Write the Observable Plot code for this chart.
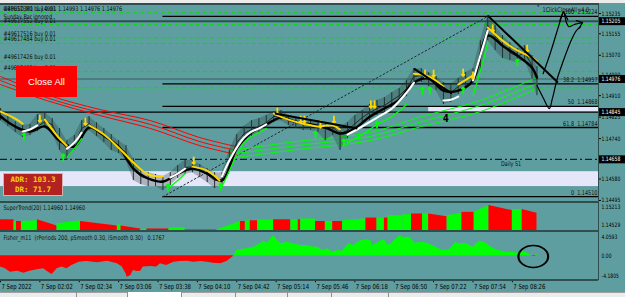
<!DOCTYPE html>
<html>
<head>
<meta charset="utf-8">
<script src="https://cdn.jsdelivr.net/npm/d3@7"></script>
<script src="https://cdn.jsdelivr.net/npm/@observablehq/plot@0.6"></script>
<style>
  html, body { margin:0; padding:0; background:#5F9EA0; }
  #chart { position:relative; width:625px; height:297px; overflow:hidden; background:#5F9EA0; }
  #chart svg { position:absolute; left:0; overflow:visible; }
  .box { position:absolute; box-sizing:border-box; }
</style>
</head>
<body>
<div id="chart"></div>
<script>
// ---------------- DATA ----------------
const timeBars = [0,32,64,96,128,160,192,224,256,288,320,352,384,416];
const timeLabels = ["7 Sep 2022","7 Sep 02:02","7 Sep 02:34","7 Sep 03:06","7 Sep 03:38","7 Sep 04:10","7 Sep 04:42","7 Sep 05:14","7 Sep 05:46","7 Sep 06:18","7 Sep 06:50","7 Sep 07:22","7 Sep 07:54","7 Sep 08:26"];

const priceTicks = [1.15235,1.15155,1.15070,1.14990,1.14910,1.14825,1.14740,1.14580,1.14495];
const markedLevels = [1.15205,1.14976,1.14845,1.14658];

const priceBars = [0,6,12,18,24,30,36,42,48,54,60,66,72,78,84,90,96,102,108,114,120,126,132,138,144,150,156,162,168,174,180,186,192,198,204,210,216,222,228,234,240,246,252,258,264,270,276,282,288,294,300,306,312,318,324,330,336,342,348,354,360,366,372,378,384,390,396,402,408,414,420,426,432,436];
const priceClose = [1.14835,1.14807,1.14784,1.14768,1.14772,1.14788,1.14807,1.14796,1.14736,1.14700,1.14716,1.14780,1.14799,1.14776,1.14752,1.14728,1.14708,1.14685,1.14617,1.14590,1.14582,1.14574,1.14566,1.14582,1.14605,1.14625,1.14629,1.14613,1.14598,1.14574,1.14578,1.14653,1.14724,1.14760,1.14776,1.14788,1.14803,1.14827,1.14831,1.14811,1.14803,1.14799,1.14796,1.14788,1.14780,1.14784,1.14760,1.14772,1.14799,1.14823,1.14843,1.14859,1.14871,1.14891,1.14910,1.14938,1.14986,1.14990,1.14978,1.14962,1.14930,1.14922,1.14946,1.14970,1.14986,1.15069,1.15188,1.15148,1.15108,1.15081,1.15065,1.15081,1.15029,1.14976];
const priceHigh = [1.14859,1.14835,1.14807,1.14792,1.14796,1.14835,1.14843,1.14819,1.14780,1.14732,1.14752,1.14811,1.14827,1.14803,1.14780,1.14756,1.14732,1.14712,1.14661,1.14613,1.14605,1.14598,1.14590,1.14605,1.14633,1.14653,1.14653,1.14637,1.14621,1.14605,1.14605,1.14693,1.14756,1.14788,1.14811,1.14819,1.14831,1.14847,1.14851,1.14831,1.14823,1.14819,1.14815,1.14811,1.14803,1.14803,1.14788,1.14803,1.14831,1.14851,1.14875,1.14891,1.14902,1.14922,1.14938,1.14970,1.15017,1.15017,1.15001,1.14986,1.14962,1.14954,1.14978,1.15001,1.15017,1.15128,1.15227,1.15188,1.15148,1.15120,1.15096,1.15108,1.15069,1.15025];
const priceLow = [1.14811,1.14788,1.14764,1.14744,1.14752,1.14768,1.14784,1.14764,1.14693,1.14653,1.14693,1.14740,1.14772,1.14748,1.14724,1.14693,1.14681,1.14653,1.14574,1.14558,1.14550,1.14550,1.14534,1.14554,1.14582,1.14598,1.14605,1.14586,1.14566,1.14542,1.14554,1.14613,1.14693,1.14732,1.14748,1.14764,1.14780,1.14803,1.14811,1.14792,1.14780,1.14772,1.14772,1.14764,1.14732,1.14752,1.14693,1.14740,1.14772,1.14796,1.14811,1.14831,1.14843,1.14859,1.14883,1.14906,1.14954,1.14962,1.14946,1.14930,1.14875,1.14883,1.14914,1.14938,1.14954,1.15009,1.15128,1.15089,1.15057,1.15049,1.15041,1.15049,1.14978,1.14910];

const maBars = [0,12,24,36,48,60,72,84,96,108,120,132,144,156,168,180,192,204,216,228,240,252,264,276,288,300,312,324,336,348,360,372,384,396,408,420,432,436];
const maVals = [1.14827,1.14788,1.14768,1.14788,1.14732,1.14708,1.14784,1.14752,1.14708,1.14621,1.14582,1.14570,1.14601,1.14621,1.14601,1.14574,1.14700,1.14764,1.14796,1.14823,1.14807,1.14796,1.14784,1.14760,1.14780,1.14827,1.14859,1.14894,1.14962,1.14978,1.14930,1.14930,1.14970,1.15148,1.15108,1.15069,1.15021,1.14982];

const yellowBars = [[0,12,18],[36,48,54],[72,84,96,108,120,132],[156,168,178],[222,234,246,258,270,276],[336,348,360],[372,384],[396,408,420,432,436]];
const yellowVals = [[1.14847,1.14819,1.14799],[1.14815,1.14740,1.14712],[1.14792,1.14756,1.14704,1.14645,1.14598,1.14590],[1.14629,1.14613,1.14574],[1.14839,1.14815,1.14799,1.14788,1.14792,1.14776],[1.14997,1.14986,1.14946],[1.14954,1.14990],[1.15180,1.15128,1.15089,1.15061,1.15045]];

const whiteBars = [[18,24,30],[54,60,66],[138,144,150],[180,186,192,198,204,210,216],[282,294,306,318,330,336],[360,366,372],[384,390,396]];
const whiteVals = [[1.14768,1.14776,1.14792],[1.14700,1.14724,1.14764],[1.14586,1.14601,1.14621],[1.14590,1.14653,1.14704,1.14744,1.14768,1.14780,1.14796],[1.14756,1.14788,1.14823,1.14859,1.14922,1.14962],[1.14891,1.14894,1.14906],[1.14970,1.15069,1.15168]];

const greenBars = [[54,60,66],[138,144,150],[180,186,192,198,204,210,216],[282,294,306,318,330],[384,390,396]];
const greenVals = [[1.14665,1.14700,1.14740],[1.14550,1.14574,1.14601],[1.14550,1.14613,1.14673,1.14724,1.14748,1.14764,1.14780],[1.14724,1.14756,1.14796,1.14827,1.14875],[1.14910,1.15009,1.15120]];

const redRibbonBars = [0,40,81,122,162,192];
const redRibbon1 = [1.14986,1.14910,1.14855,1.14811,1.14744,1.14708];
const redRibbon2 = [1.14970,1.14898,1.14843,1.14796,1.14728,1.14693];
const redRibbon3 = [1.14954,1.14887,1.14831,1.14780,1.14712,1.14677];

const greenRibbonBars = [186,240,300,342,390,436];
const greenRibbon1 = [1.14693,1.14728,1.14764,1.14827,1.14891,1.14982];
const greenRibbon2 = [1.14677,1.14712,1.14748,1.14807,1.14871,1.14958];
const greenRibbon3 = [1.14661,1.14696,1.14732,1.14788,1.14847,1.14938];

const sellArrowBars = [32,69,157,225,244,247,260,271,301,304,345,352,376,384,400,428];
const sellArrowVals = [1.14819,1.14807,1.14653,1.14847,1.14815,1.14815,1.14796,1.14815,1.14875,1.14875,1.14997,1.14997,1.15001,1.14990,1.15176,1.15096];
const buyArrowBars = [19,51,136,179,256,279,306,343,349,376,420];
const buyArrowVals = [1.14748,1.14665,1.14546,1.14550,1.14756,1.14724,1.14796,1.14930,1.14930,1.14930,1.15041];

const orderPrices = [1.15238,1.15191,1.15139,1.15117,1.15046,1.15005,1.14941];
const orderLabels = ["#49617380 buy 0.01","#49617552 buy 0.01","#49617516 buy 0.01","#49617484 buy 0.01","#49617426 buy 0.01","#49617402 buy 0.01",""];

const fiboLevels = [1.15224,1.14957,1.14868,1.14784,1.14510];
const fiboLabels = ["100  1.15224","38.2  1.14957","50  1.14868","61.8  1.14784","0  1.14510"];
const fiboStartBar = 132;
const fiboLineBars = [132,396];
const fiboLineVals = [1.14510,1.15224];
const dailyS1 = 1.14658;

const bandX1 = [348,0], bandX2 = [486,486];
const bandLo = [1.14845,1.14550], bandHi = [1.14867,1.14609];

const trendX1 = [223,336,396], trendY1 = [1.14839,1.15017,1.15227];
const trendX2 = [290,367,453], trendY2 = [1.14780,1.14918,1.14962];

const sketch1Bars = [441,447,452,456,457.5,460,462,466,473];
const sketch1Vals = [1.14997,1.15081,1.15160,1.15223,1.15243,1.15199,1.15183,1.15191,1.15199];
const sketch1HeadBars = [454.5,457.5,461];
const sketch1HeadVals = [1.15207,1.15243,1.15211];
const sketch1Head2Bars = [468,473,470];
const sketch1Head2Vals = [1.15207,1.15199,1.15176];
const sketch2Bars = [436,441,446,448.5,452.5,457.5,463,468,471.5];
const sketch2Vals = [1.14950,1.14902,1.14859,1.14898,1.14978,1.15049,1.15120,1.15168,1.15183];

// SuperTrend histogram segments
const stStart = [0,11,13,17,30,46,65,95,98,114,119,137,150,176,195,199,203,209,222,236,242,244,256,264,270,278,297,306,312,315,327,334,343,348,363,375,385,397,416,424];
const stEnd   = [11,13,17,30,46,65,95,98,114,119,137,150,176,195,199,203,209,222,236,242,244,256,264,270,278,297,306,312,315,327,334,343,348,363,375,385,397,416,424,436];
const stV0 = [1.14815,1.14773,1.14773,1.14773,1.14815,1.14716,1.14773,1.14691,1.14666,1.14583,1.14591,1.14616,1.14566,1.14566,1.14773,1.14790,1.14790,1.14808,1.14815,1.14815,1.14815,1.14833,1.14773,1.14773,1.14773,1.14790,1.14857,1.14857,1.14857,1.14915,1.14939,1.14957,1.14957,1.14957,1.14915,1.14997,1.14997,1.15163,1.15064,1.15064];
const stV1 = [1.14815,1.14773,1.14773,1.14790,1.14666,1.14790,1.14666,1.14691,1.14591,1.14583,1.14591,1.14616,1.14566,1.14773,1.14773,1.14790,1.14790,1.14808,1.14815,1.14815,1.14815,1.14833,1.14773,1.14773,1.14773,1.14833,1.14857,1.14857,1.14857,1.14915,1.14939,1.14957,1.14957,1.14890,1.14972,1.14997,1.15163,1.15039,1.15064,1.14972];
const stColor = ["r","g","r","g","r","g","r","g","r","g","r","g","r","g","r","g","r","g","r","g","r","g","r","g","r","g","r","g","r","g","g","r","g","r","g","r","g","r","g","r"];

// Fisher
const fisherBars = [0,4,8,14,19,24,30,35,39,42,46,50,54,58,64,70,79,87,95,99,102,103,106,108,111,114,116,122,127,130,135,141,146,152,157,163,168,173,179,184,187,190,192,195,200,206,211,214,217,219,222,225,228,233,238,244,249,255,258,262,266,270,274,278,283,287,292,297,301,302,306,310,312,315,319,321,325,328,332,335,337,343,348,354,359,365,370,373,378,384,389,393,397,401,405,411,416,420,423,427,431,434,436];
const fisherVals = [-2.01,-2.30,-2.89,-2.72,-3.07,-2.72,-2.47,-2.30,-2.89,-3.30,-2.30,-2.01,-2.30,-1.72,-1.14,-1.02,-1.25,-0.96,-1.42,-2.01,-3.17,-3.77,-3.47,-2.59,-2.77,-2.72,-2.01,-1.89,-2.01,-1.42,-1.72,-1.14,-1.02,-0.96,-1.14,-1.02,-1.14,-1.31,-1.42,-1.02,-0.54,0.03,0.91,1.03,1.21,1.49,2.08,2.54,2.19,2.79,3.54,2.66,2.08,2.37,2.08,1.79,1.79,1.49,1.49,0.91,1.21,0.61,0.91,0.79,2.08,1.79,2.54,2.79,2.66,1.79,2.19,2.66,2.79,1.79,2.37,2.79,3.54,3.14,3.25,2.66,2.19,2.37,2.08,1.49,0.91,1.03,2.37,2.08,2.19,1.49,2.54,2.37,1.79,1.21,0.91,0.61,0.61,0.44,0.91,0.61,0.04,-0.14,0.21];

// ---------------- DRAWING ----------------
const FONT = '"Liberation Sans Narrow","DejaVu Sans Condensed","Liberation Sans",Arial,sans-serif';
const AXF = 6;   // right-axis label size
const root = document.getElementById('chart');
const P = (bars, vals) => bars.map((b,i)=>({b, v: vals[i]}));
const S = (barsArr, valsArr) => barsArr.flatMap((bs,k)=>bs.map((b,i)=>({k, b, v: valsArr[k][i]})));
const priceData = priceBars.map((b,i)=>({b, c: priceClose[i], h: priceHigh[i], l: priceLow[i]}));

function panel(height, yDomain, marks, mb = 0) {
  return Plot.plot({
    width: 625, height, marginTop: 0, marginBottom: mb, marginLeft: 0, marginRight: 27,
    x: {domain:[0,486], range:[0,598], axis:null},
    y: {domain: yDomain, range:[height - mb, 0], axis:null},
    color: {type:'identity'},
    style: {background:'transparent', fontFamily: FONT, fontSize:'6.5px', overflow:'visible', color:'#000'},
    marks
  });
}
// narrow the sans text so it matches the condensed terminal font
function narrow(svg, k) {
  svg.querySelectorAll('text').forEach(t => {
    const L = t.getComputedTextLength();
    if (L > 6) { t.setAttribute('textLength', (L * k).toFixed(1)); t.setAttribute('lengthAdjust', 'spacingAndGlyphs'); }
  });
}
function place(el, top) { el.style.top = top + 'px'; el.style.left = '0px'; root.appendChild(el); narrow(el, 0.84); }

const lineOpt = (stroke, w, extra={}) => ({x:'b', y:'v', stroke, strokeWidth:w, curve:'catmull-rom', ...extra});

const mainMarks = [
  Plot.rect(bandX1.map((_,i)=>i), {x1:i=>bandX1[i], x2:i=>bandX2[i], y1:i=>bandLo[i], y2:i=>bandHi[i], fill:'#E6E6FA'}),
  Plot.ruleY(orderPrices, {stroke:'#00e000', strokeWidth:1, strokeDasharray:'4,3'}),
  Plot.ruleY([markedLevels[0]], {stroke:'#2F4F4F', strokeWidth:2}),
  Plot.ruleY([markedLevels[1]], {stroke:'#3a5c5c', strokeWidth:1}),
  Plot.ruleY([markedLevels[2]], {stroke:'#000', strokeWidth:1.2}),
  Plot.ruleY([dailyS1], {stroke:'#000', strokeWidth:1, strokeDasharray:'7,3,2,3'}),
  Plot.ruleY(fiboLevels, {x1:fiboStartBar, x2:486, stroke:'#000', strokeWidth:1.3}),
  Plot.line(P(fiboLineBars, fiboLineVals), {x:'b', y:'v', stroke:'#1a2a2a', strokeWidth:1, strokeDasharray:'1.5,2.5'}),
  Plot.line(P(redRibbonBars, redRibbon1), lineOpt('#ff0000', 1)),
  Plot.line(P(redRibbonBars, redRibbon2), lineOpt('#ff0000', 1)),
  Plot.line(P(redRibbonBars, redRibbon3), lineOpt('#ff0000', 1)),
  Plot.line(P(greenRibbonBars, greenRibbon1), lineOpt('#00ff00', 1)),
  Plot.line(P(greenRibbonBars, greenRibbon2), lineOpt('#00ff00', 1)),
  Plot.line(P(greenRibbonBars, greenRibbon3), lineOpt('#00ff00', 1)),
  Plot.areaY(priceData, {x:'b', y1:'l', y2:'h', fill:'#2a3c3c', fillOpacity:0.3}),
  Plot.ruleX(priceData, {x:'b', y1:'l', y2:'h', stroke:'#223333', strokeWidth:1}),
  Plot.line(priceData, {x:'b', y:'c', stroke:'#1e2b2b', strokeWidth:1}),
  Plot.line(P(maBars, maVals), lineOpt('#000', 2.4)),
  Plot.line(S(greenBars, greenVals), lineOpt('#00ff00', 1.3, {z:'k'})),
  Plot.line(S(whiteBars, whiteVals), lineOpt('#ffffff', 2.1, {z:'k'})),
  Plot.line(S(yellowBars, yellowVals), lineOpt('#FFD700', 2, {z:'k'})),
  Plot.vector(P(sellArrowBars, sellArrowVals), {x:'b', y:'v', length:6.5, rotate:180, stroke:'#FFD700', strokeWidth:1.8}),
  Plot.vector(P(buyArrowBars, buyArrowVals), {x:'b', y:'v', length:6.5, rotate:0, stroke:'#00ff00', strokeWidth:1.8}),
  Plot.link(trendX1.map((_,i)=>i), {x1:i=>trendX1[i], y1:i=>trendY1[i], x2:i=>trendX2[i], y2:i=>trendY2[i], stroke:'#000', strokeWidth:2}),
  Plot.line(P(sketch1Bars, sketch1Vals), lineOpt('#000', 1.2)),
  Plot.line(P(sketch1HeadBars, sketch1HeadVals), {x:'b', y:'v', stroke:'#000', strokeWidth:1.2}),
  Plot.line(P(sketch1Head2Bars, sketch1Head2Vals), {x:'b', y:'v', stroke:'#000', strokeWidth:1.2}),
  Plot.line(P(sketch2Bars, sketch2Vals), lineOpt('#000', 1.2)),
  // labels
  Plot.text(orderPrices.map((v,i)=>({v, t:orderLabels[i]})), {y:'v', text:'t', frameAnchor:'left', dx:3, dy:-4, textAnchor:'start', fill:'#111'}),
  Plot.text([{t:"GBPUSD,M1  1.14991 1.14993 1.14976 1.14976"}], {text:'t', frameAnchor:'top-left', dx:3, dy:4, lineAnchor:'middle', textAnchor:'start', fill:'#111'}),
  Plot.text([{t:"Sunday Bar ignored"}], {text:'t', frameAnchor:'top-left', dx:3, dy:12, lineAnchor:'middle', textAnchor:'start', fill:'#111'}),
  Plot.text(fiboLevels.map((v,i)=>({v, t:fiboLabels[i]})), {y:'v', text:'t', frameAnchor:'right', dx:-1, dy:-4, textAnchor:'end', fill:'#111'}),
  Plot.text([{b:415, v:dailyS1, t:"Daily S1"}], {x:'b', y:'v', text:'t', dy:5, fill:'#111'}),
  Plot.text([{b:440.5, v:1.15251, t:"1ClickCloseAll v4.0"}], {x:'b', y:'v', text:'t', textAnchor:'start', fill:'#111'}),
  Plot.text([{b:437, v:1.15267, t:"▼"}], {x:'b', y:'v', text:'t', fill:'#2F4F4F', fontSize:5}),
  Plot.text([{b:362, v:1.14819, t:"4"}], {x:'b', y:'v', text:'t', fontSize:11, fontWeight:'bold', fill:'#000'}),
  // price axis
  Plot.ruleY(priceTicks, {x1:486, x2:488.4, stroke:'#000'}),
  Plot.text(priceTicks, {y:d=>d, text:d=>d.toFixed(5), frameAnchor:'right', dx:3, textAnchor:'start', fill:'#000', fontSize:AXF}),
  Plot.ruleY(markedLevels, {x1:486.4, x2:510, stroke:'#000', strokeWidth:8}),
  Plot.text(markedLevels, {y:d=>d, text:d=>d.toFixed(5), frameAnchor:'right', dx:3, textAnchor:'start', fill:'#fff', fontSize:AXF})
];
place(panel(198, [1.14487, 1.15271], mainMarks), 4);

// SuperTrend panel
const stPts = stStart.flatMap((s,i)=>[{seg:i,b:s,v:stV0[i],c:stColor[i]},{seg:i,b:stEnd[i],v:stV1[i],c:stColor[i]}]);
const stMarks = [
  Plot.areaY(stPts, {x:'b', y1:1.14529, y2:'v', z:'seg', fill:d=>d.c==='r'?'#ff0000':'#00ff00'}),
  Plot.text([{t:"SuperTrend(20) 1.14960 1.14960"}], {text:'t', frameAnchor:'top-left', dx:3, dy:4, lineAnchor:'middle', textAnchor:'start', fill:'#111'}),
  Plot.text([{t:"1.15213"}], {text:'t', frameAnchor:'top-right', dx:3, dy:4, lineAnchor:'middle', textAnchor:'start', fill:'#000', fontSize:AXF}),
  Plot.text([{t:"1.14529"}], {text:'t', frameAnchor:'bottom-right', dx:3, dy:-6, lineAnchor:'middle', textAnchor:'start', fill:'#000', fontSize:AXF})
];
place(panel(28, [1.14529, 1.15213], stMarks), 203);

// Fisher panel
const fPts = P(fisherBars, fisherVals);
const fMarks = [
  Plot.areaY(fPts, {x:'b', y1:0, y2:d=>Math.min(0,d.v), fill:'#ff0000'}),
  Plot.areaY(fPts, {x:'b', y1:0, y2:d=>Math.max(0,d.v), fill:'#00ff00'}),
  Plot.dot([{b:433, v:-0.15}], {x:'b', y:'v', r:11, stroke:'#000', strokeWidth:1.6, fill:'none'}),
  Plot.text([{t:"Fisher_m11  (rPeriods 200, pSmooth 0.30, iSmooth 0.30)   0.1767"}], {text:'t', frameAnchor:'top-left', dx:3, dy:5, lineAnchor:'middle', textAnchor:'start', fill:'#111'}),
  Plot.text([{t:"4.0593"}], {text:'t', frameAnchor:'top-right', dx:3, dy:5, lineAnchor:'middle', textAnchor:'start', fill:'#000', fontSize:AXF}),
  Plot.text([{v:0, t:"0.00"}], {y:'v', text:'t', frameAnchor:'right', dx:3, textAnchor:'start', fill:'#000', fontSize:AXF}),
  Plot.text([{t:"-4.1805"}], {text:'t', frameAnchor:'bottom-right', dx:3, dy:-3, lineAnchor:'middle', textAnchor:'start', fill:'#000', fontSize:AXF}),
  Plot.ruleX(timeBars, {x:d=>d, y1:-4.1805, y2:-4.75, stroke:'#000'}),
  Plot.text(timeBars.map((b,i)=>({b, t:timeLabels[i]})), {x:'b', text:'t', frameAnchor:'bottom', dy:7, dx:1, lineAnchor:'middle', textAnchor:'start', fill:'#000', fontSize:7})
];
const fisherSvg = panel(65, [-4.1805, 4.0593], fMarks, 18);
place(fisherSvg, 232);
fisherSvg.querySelectorAll('circle').forEach(c => {
  c.style.transformBox = 'fill-box';
  c.style.transformOrigin = 'center';
  c.style.transform = 'scale(1.35,1)';
});

// ---------------- frame / UI objects ----------------
function box(css, html='') { const d = document.createElement('div'); d.className = 'box'; d.style.cssText += css; d.innerHTML = html; root.appendChild(d); return d; }
box('left:0;top:0;width:625px;height:3px;background:#ececec;');
box('left:0;top:3px;width:598px;height:1.5px;background:#2F4F4F;');
box('left:0;top:201px;width:598px;height:2px;background:#2F4F4F;');
box('left:0;top:230px;width:598px;height:2px;background:#2F4F4F;');
box('left:0;top:279px;width:598px;height:1.5px;background:#2F4F4F;');
box('left:597.5px;top:3px;width:1.5px;height:277px;background:#2F4F4F;');
box('left:0;top:292px;width:625px;height:5px;background:#ececec;border-top:1px solid #a0a0a0;');
[76,127,181,235,287,331,388].forEach(x => box(`left:${x}px;top:292px;width:1px;height:5px;background:#909090;`));
box('left:128px;top:292px;width:53px;height:5px;background:#ffffff;');
box('left:16px;top:66px;width:61px;height:31px;background:#ff0000;color:#fff;font:9.5px "Liberation Sans",Arial,sans-serif;display:flex;align-items:center;justify-content:center;', 'Close All');
box('left:3px;top:173px;width:60px;height:23px;background:#B22222;border:1px solid #d8b0b0;color:#FFD000;font:bold 7.5px "DejaVu Sans Mono",monospace;line-height:10px;text-align:center;padding-top:1px;', 'ADR: 103.3<br>DR: 71.7');
</script>
</body>
</html>
